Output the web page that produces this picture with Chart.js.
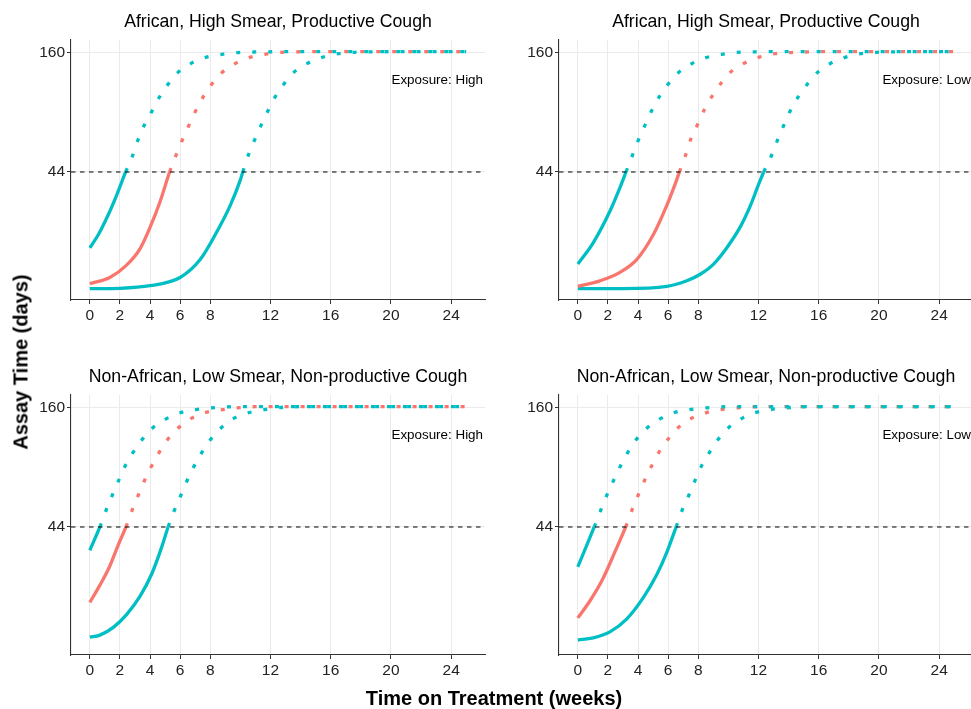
<!DOCTYPE html>
<html>
<head>
<meta charset="utf-8">
<script src="https://cdn.jsdelivr.net/npm/chart.js@4.4.1/dist/chart.umd.min.js"></script>
<style>
  html, body { margin: 0; padding: 0; background: #fff; overflow: hidden; }
  body { width: 971px; height: 709px; position: relative; }
  canvas { position: absolute; }
  .lab { position: absolute; font-family: 'Liberation Sans', Arial, sans-serif; font-weight: bold; color: #000; white-space: nowrap; }
</style>
</head>
<body>
<canvas id="p1" width="488" height="355" style="left:0;top:0"></canvas>
<canvas id="p2" width="488" height="355" style="left:488px;top:0"></canvas>
<canvas id="p3" width="488" height="355" style="left:0;top:355px"></canvas>
<canvas id="p4" width="488" height="355" style="left:488px;top:355px"></canvas>
<div class="lab" style="font-size:20px;left:21px;top:362px;transform:translate(-50%,-50%) rotate(-90deg)">Assay Time (days)</div>
<div class="lab" style="font-size:20px;left:494px;top:698px;transform:translate(-50%,-50%)">Time on Treatment (weeks)</div>
<script>
const xTickValues = [0, 2, 4, 6, 8, 12, 16, 20, 24];
const yTickValues = [44, 160];
const cutoff = 44;
const panelTitles = [
  'African, High Smear, Productive Cough',
  'African, High Smear, Productive Cough',
  'Non-African, Low Smear, Non-productive Cough',
  'Non-African, Low Smear, Non-productive Cough'
];
const exposureLabels = ['Exposure: High', 'Exposure: Low', 'Exposure: High', 'Exposure: Low'];

// top left
const tlTealEarlyWeeks = [0, 0.6, 1.2, 1.8, 2.38, 2.82, 3.22, 3.62, 4.11, 4.6, 5.18, 5.89, 6.73, 7.71, 8.78, 9.82, 10.9, 13, 25];
const tlTealEarlyDays = [19.4, 22.6, 27.5, 34.5, 44, 52, 62.8, 73, 84.4, 98, 113, 129.5, 142, 151.6, 156.6, 159.5, 160.5, 161, 161];
const tlRedWeeks = [0, 1.33, 2.44, 3.33, 4.0, 4.67, 5.3, 5.71, 6.11, 6.55, 7.0, 7.49, 8.04, 8.73, 9.6, 10.56, 11.62, 12.73, 15, 25];
const tlRedDays = [13.2, 14.1, 16.1, 19.2, 24.2, 32, 44, 52.3, 61.3, 71.9, 84.2, 97.8, 112.1, 127.7, 141.1, 151, 156.6, 160, 161, 161];
const tlTealLateWeeks = [0, 2, 4, 6, 7.33, 8.44, 9.33, 10, 10.16, 10.56, 11, 11.4, 11.85, 12.33, 12.93, 13.64, 14.51, 15.51, 16.51, 17.56, 20, 25];
const tlTealLateDays = [12.5, 12.55, 12.9, 14.1, 17.1, 23.1, 30.7, 40.4, 44, 53.5, 63.4, 73.5, 85.7, 99.5, 114.6, 130.6, 142.7, 152.1, 157.7, 160, 161, 161];

// top right
const trTealEarlyWeeks = [0, 1.02, 2.13, 2.8, 3.2, 3.62, 4.02, 4.44, 4.87, 5.4, 5.98, 6.69, 7.53, 8.51, 9.56, 10.6, 13, 25];
const trTealEarlyDays = [16.3, 20.5, 28.8, 37.2, 44, 52.5, 62.1, 72.3, 84.3, 98.8, 113, 128.6, 141.1, 151, 156.6, 160, 161, 161];
const trRedWeeks = [0, 1.47, 2.8, 3.91, 5.02, 5.91, 6.47, 6.75, 7.13, 7.53, 7.96, 8.4, 8.91, 9.51, 10.22, 11.09, 12.05, 13.07, 14.13, 16, 25];
const trRedDays = [12.8, 13.6, 14.9, 17.1, 22.4, 30.7, 38.7, 44, 52, 63.4, 73.5, 86, 99.5, 114.6, 130.6, 142.7, 151.8, 157.8, 159.5, 161, 161];
const trTealLateWeeks = [0, 3, 5.91, 7.24, 8.13, 9.02, 9.91, 10.8, 11.47, 12.02, 12.35, 12.87, 13.29, 13.69, 14.13, 14.64, 15.24, 15.98, 16.8, 17.8, 18.8, 19.85, 22, 25];
const trTealLateDays = [12.5, 12.5, 12.8, 13.6, 14.6, 16.3, 19.5, 24.4, 30.7, 38.7, 44, 52.7, 62.8, 73.1, 85.7, 98.9, 113.3, 129.9, 142.2, 151.8, 157.8, 160, 161, 161];

// bottom left
const blTealEarlyWeeks = [0, 0.67, 1.11, 1.51, 1.91, 2.33, 2.84, 3.44, 4.09, 4.98, 5.93, 6.96, 8.11, 9.5, 25];
const blTealEarlyDays = [34.2, 44, 53.3, 62.4, 72.5, 84.5, 97.5, 112.1, 126.6, 140.1, 150.3, 155.6, 159, 161, 161];
const blRedWeeks = [0, 0.67, 1.33, 1.89, 2.4, 2.82, 3.22, 3.62, 4.07, 4.56, 5.11, 5.78, 6.6, 7.56, 8.67, 9.82, 11, 25];
const blRedDays = [19.5, 23.5, 28.9, 36.3, 44, 52.9, 62, 72.3, 84, 97.1, 111.7, 126.2, 140.1, 150.3, 155.6, 159, 161, 161];
const blTealLateWeeks = [0, 0.67, 1.56, 2.44, 3.33, 4.11, 4.78, 5.2, 5.6, 6, 6.4, 6.84, 7.33, 7.89, 8.56, 9.33, 10.29, 11.29, 12.33, 14, 25];
const blTealLateDays = [13.4, 13.7, 14.9, 17.1, 20.8, 26.5, 35.5, 44, 52.3, 60.8, 71, 82.5, 95.5, 109.9, 124.9, 138.7, 149.2, 154.6, 159, 161, 161];

// bottom right
const brTealEarlyWeeks = [0, 1.09, 1.53, 1.93, 2.36, 2.8, 3.27, 3.84, 4.53, 5.4, 6.36, 7.4, 8.53, 10, 25];
const brTealEarlyDays = [28.6, 44, 52.9, 62.1, 72.3, 84.1, 97.1, 112, 126.7, 140.4, 150.7, 156, 159, 161, 161];
const brRedWeeks = [0, 0.8, 1.69, 2.47, 3.18, 3.62, 4.02, 4.44, 4.89, 5.38, 5.96, 6.64, 7.49, 8.49, 9.51, 10.58, 12, 25];
const brRedDays = [16.5, 19.8, 25.4, 33.7, 44, 53.3, 62.3, 72.8, 84.8, 98.4, 112.7, 128, 141.4, 150.7, 156, 159, 161, 161];
const brTealLateWeeks = [0, 1.02, 2.13, 3.24, 4.36, 5.24, 5.91, 6.53, 6.93, 7.36, 7.76, 8.18, 8.69, 9.27, 9.93, 10.78, 11.73, 12.76, 13.87, 15, 25];
const brTealLateDays = [13, 13.3, 14.2, 16.3, 20.6, 26.3, 33.5, 44, 52.8, 61.6, 72, 84.1, 97.1, 112, 126.7, 140.4, 150.7, 156, 159, 161, 161];

const TEAL = '#00BFC4';
const RED = '#F8766D';
const FONT = "'Liberation Sans', Arial, sans-serif";

Chart.defaults.font.family = FONT;

const panelText = {
  id: 'panelText',
  afterDraw(chart, args, opts) {
    const ctx = chart.ctx;
    const a = chart.chartArea;
    ctx.save();
    ctx.fillStyle = '#000';
    ctx.textBaseline = 'middle';
    ctx.font = '17.7px ' + FONT;
    ctx.textAlign = 'center';
    ctx.fillText(opts.title, (a.left + a.right) / 2, 22);
    ctx.font = '13.4px ' + FONT;
    ctx.textAlign = 'right';
    ctx.fillText(opts.exposure, a.right - 2, a.top + 40);
    ctx.restore();
  }
};

function pts(xs, ys) {
  return xs.map((x, i) => ({ x: x, y: ys[i] }));
}

function curve(xs, ys, color) {
  return {
    data: pts(xs, ys),
    borderColor: color,
    borderWidth: 3.3,
    pointRadius: 0,
    cubicInterpolationMode: 'monotone',
    borderJoinStyle: 'round',
    segment: {
      borderDash: ctx => ctx.p0.parsed.y >= cutoff - 0.001 ? [4, 12] : undefined
    }
  };
}

function makePanel(id, idx, curves) {
  const datasets = [{
    data: [{ x: -1.25, y: cutoff }, { x: 26.25, y: cutoff }],
    borderColor: '#000',
    borderWidth: 1.2,
    borderDash: [4.5, 4.5],
    pointRadius: 0
  }].concat(curves);

  new Chart(document.getElementById(id).getContext('2d'), {
    type: 'line',
    data: { datasets: datasets },
    options: {
      responsive: false,
      animation: false,
      layout: { padding: { top: 40, right: 3, left: 0, bottom: 0 } },
      plugins: {
        legend: { display: false },
        tooltip: { enabled: false },
        panelText: { title: panelTitles[idx], exposure: exposureLabels[idx] }
      },
      scales: {
        x: {
          type: 'linear',
          min: -1.25,
          max: 26.25,
          bounds: 'data',
          afterBuildTicks: s => { s.ticks = xTickValues.map(v => ({ value: v })); },
          afterFit: s => { s.height = 55; },
          grid: { color: '#EBEBEB', lineWidth: 1, tickColor: '#333', tickLength: 4 },
          border: { display: true, color: '#333', width: 1.1 },
          ticks: { color: '#222', font: { size: 15.5 }, padding: 2, autoSkip: false, maxRotation: 0, callback: v => String(v) }
        },
        y: {
          type: 'logarithmic',
          min: 11.06,
          max: 182.7,
          bounds: 'data',
          afterBuildTicks: s => { s.ticks = yTickValues.map(v => ({ value: v })); },
          afterFit: s => { s.width = 71; },
          grid: { color: '#EBEBEB', lineWidth: 1, tickColor: '#333', tickLength: 4 },
          border: { display: true, color: '#333', width: 1.1 },
          ticks: { color: '#222', font: { size: 15.5 }, padding: 2, callback: v => String(v) }
        }
      }
    },
    plugins: [panelText]
  });
}

makePanel('p1', 0, [
  curve(tlTealEarlyWeeks, tlTealEarlyDays, TEAL),
  curve(tlRedWeeks, tlRedDays, RED),
  curve(tlTealLateWeeks, tlTealLateDays, TEAL)
]);
makePanel('p2', 1, [
  curve(trTealEarlyWeeks, trTealEarlyDays, TEAL),
  curve(trRedWeeks, trRedDays, RED),
  curve(trTealLateWeeks, trTealLateDays, TEAL)
]);
makePanel('p3', 2, [
  curve(blTealEarlyWeeks, blTealEarlyDays, TEAL),
  curve(blRedWeeks, blRedDays, RED),
  curve(blTealLateWeeks, blTealLateDays, TEAL)
]);
makePanel('p4', 3, [
  curve(brTealEarlyWeeks, brTealEarlyDays, TEAL),
  curve(brRedWeeks, brRedDays, RED),
  curve(brTealLateWeeks, brTealLateDays, TEAL)
]);
</script>
</body>
</html>
